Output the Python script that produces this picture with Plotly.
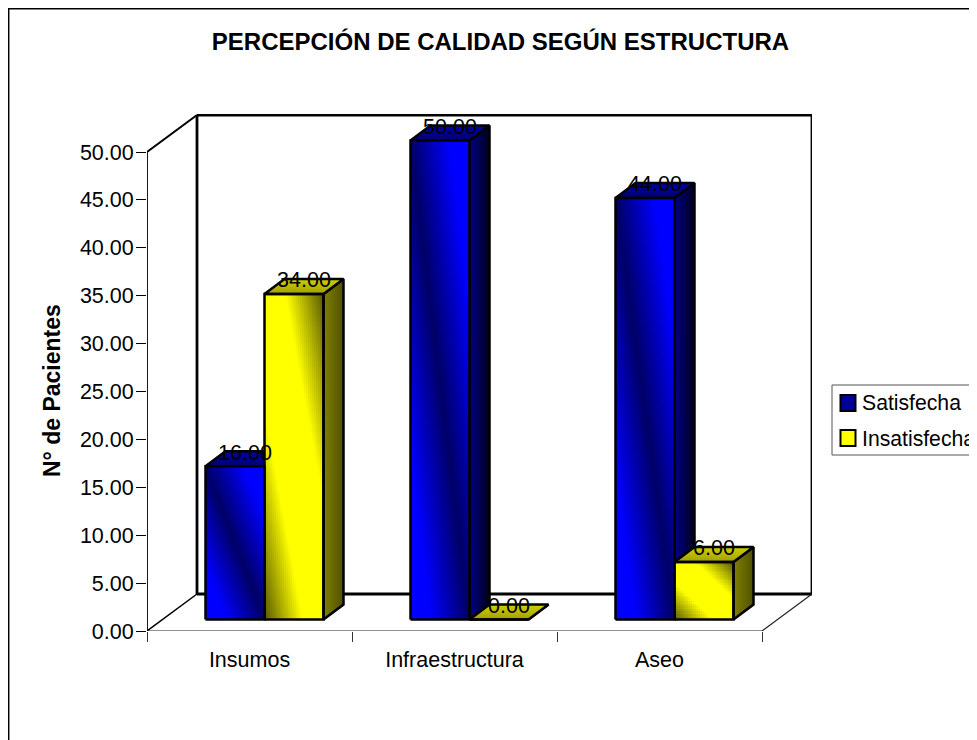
import numpy as np
import plotly.graph_objects as go

categories = ["Insumos", "Infraestructura", "Aseo"]
satisfecha = [16.0, 50.0, 44.0]
insatisfecha = [34.0, 0.0, 6.0]
y_ticks = [0, 5, 10, 15, 20, 25, 30, 35, 40, 45, 50]

FONT = "Liberation Sans"
FS = 21.5

# the page body keeps its 8px margin, so the figure starts at (8, 8)
OFF = 8
W, H = 969, 732

# pixel frame of the front plane in page pixels, the rest is relative to it
L, R, T, B = 147, 812, 114, 631
PX_X = 205.0      # pixels per category
PX_Y = 9.58       # pixels per value unit
WALL_X, WALL_Y = 50 / PX_X, 37 / PX_Y     # depth of the whole box
BAR_DX, BAR_DY = 20 / PX_X, 15 / PX_Y     # depth of one bar
FLOOR_X, FLOOR_Y = 15 / PX_X, 11.4 / PX_Y # where bars stand on the floor
BAR_W = 59 / PX_X

X_RANGE = [-0.5, -0.5 + (R - L) / PX_X]
Y_RANGE = [0, (B - T) / PX_Y]


def px(x):
    return (x - L) / (R - L)


def py(y):
    return (B - y) / (B - T)


BLUE = dict(scale=[[0, "#000066"], [0.65, "#0000ff"], [1, "#0000ff"]],
            side=[[0, "#000088"], [1, "#00001a"]],
            top=[[0, "#000070"], [1, "#0000a8"]], invert=False)
YELLOW = dict(scale=[[0, "#555500"], [0.65, "#ffff00"], [1, "#ffff00"]],
              side=[[0, "#808000"], [1, "#505000"]],
              top=[[0, "#a0a000"], [1, "#d0d000"]], invert=True)


def front_gradient(height, invert):
    # band along the top-left to bottom-right diagonal of the face
    nx, ny = 30, max(4, int(height * PX_Y / 2.5))
    u = (np.arange(nx) + 0.5) / nx
    v = (np.arange(ny) + 0.5) / ny   # 0 at the bottom
    uu, vv = np.meshgrid(u, v)
    band = np.abs(uu + vv - 1)
    return 1 - band if invert else band


fig = go.Figure()
behind, front_fill, front_lines = [], [], []
labels_x, labels_y, labels_t = [], [], []

for series, vals, off in [(BLUE, satisfecha, -BAR_W), (YELLOW, insatisfecha, 0)]:
    for i, v in enumerate(vals):
        x0 = i + FLOOR_X + off
        x1 = x0 + BAR_W
        yb = FLOOR_Y
        yt = FLOOR_Y + v

        side = go.Scatter(x=[x1, x1 + BAR_DX, x1 + BAR_DX, x1, x1],
                          y=[yb, yb + BAR_DY, yt + BAR_DY, yt, yb],
                          mode="lines", fill="toself",
                          fillgradient=dict(type="horizontal", colorscale=series["side"]),
                          line=dict(color="black", width=2.5), hoverinfo="skip")
        top = go.Scatter(x=[x0, x1, x1 + BAR_DX, x0 + BAR_DX, x0],
                         y=[yt, yt, yt + BAR_DY, yt + BAR_DY, yt],
                         mode="lines", fill="toself",
                         fillgradient=dict(type="vertical", colorscale=series["top"]),
                         line=dict(color="black", width=2.5), hoverinfo="skip")
        # blue depth faces go under the yellow fronts
        if series is BLUE:
            behind += [side, top]
        else:
            front_lines += [side, top]

        if v > 0:
            z = front_gradient(v, series["invert"])
            front_fill.append(go.Heatmap(
                x=np.linspace(x0, x1, z.shape[1] + 1),
                y=np.linspace(yb, yt, z.shape[0] + 1),
                z=z, zmin=0, zmax=1, colorscale=series["scale"],
                showscale=False, hoverinfo="skip", xaxis="x2", yaxis="y2"))
        front_lines.append(go.Scatter(x=[x0, x1, x1, x0, x0], y=[yb, yb, yt, yt, yb],
                                      mode="lines", line=dict(color="black", width=2.5),
                                      hoverinfo="skip"))
        labels_x.append(x0 + BAR_W / 2 + BAR_DX / 2)
        labels_y.append(yt + BAR_DY - 3 / PX_Y)
        labels_t.append(f"{v:.2f}")

for t in behind:
    fig.add_trace(t)
for t in front_fill:
    fig.add_trace(t)
for t in front_lines:
    t.update(xaxis="x2", yaxis="y2")
    fig.add_trace(t)

fig.add_trace(go.Scatter(x=labels_x, y=labels_y, text=labels_t, mode="text",
                         textposition="middle center",
                         textfont=dict(family=FONT, size=FS, color="black"),
                         xaxis="x2", yaxis="y2", hoverinfo="skip"))

# box walls and floor
x_l, x_r = X_RANGE[0], X_RANGE[1] - WALL_X
y_max = y_ticks[-1]
shapes = []


def seg(x0, y0, x1, y1, width, color="black"):
    shapes.append(dict(type="line", x0=x0, y0=y0, x1=x1, y1=y1, layer="below",
                       line=dict(color=color, width=width)))


seg(x_l + WALL_X, WALL_Y, x_r + WALL_X, WALL_Y, 2.8)
seg(x_l + WALL_X, y_max + WALL_Y, x_r + WALL_X, y_max + WALL_Y, 2.8)
seg(x_l + WALL_X, WALL_Y, x_l + WALL_X, y_max + WALL_Y, 2.8)
seg(x_r + WALL_X, WALL_Y, x_r + WALL_X, y_max + WALL_Y, 2.8)
seg(x_l, y_max, x_l + WALL_X, y_max + WALL_Y, 2)
seg(x_l, 0, x_l, y_max, 1.8)
seg(x_l, 0, x_r, 0, 1.2, "#222222")
seg(x_l, 0, x_l + WALL_X, WALL_Y, 1.5)
seg(x_r, 0, x_r + WALL_X, WALL_Y, 1.2, "#222222")

# outer chart border, top and left edges only show
shapes.append(dict(type="rect", xref="paper", yref="paper", layer="below",
                   x0=px(8.7), x1=px(1000), y0=py(8.7), y1=py(780),
                   line=dict(color="black", width=1.5)))
# legend box
shapes.append(dict(type="rect", xref="paper", yref="paper",
                   x0=px(832), x1=px(1000), y0=py(385), y1=py(455),
                   line=dict(color="#555555", width=1)))
legend_rows = [("Satisfecha", "#000098", 403), ("Insatisfecha", "#ffff00", 438)]
annotations = []
for name, color, row_y in legend_rows:
    shapes.append(dict(type="rect", xref="paper", yref="paper",
                       x0=px(840.5), x1=px(855.5), y0=py(row_y - 8), y1=py(row_y + 8),
                       fillcolor=color, line=dict(color="black", width=2)))
    annotations.append(dict(text=name, xref="paper", yref="paper", x=px(859.5), y=py(row_y),
                            xanchor="left", yanchor="middle", showarrow=False,
                            font=dict(family=FONT, size=21.2, color="black")))

annotations.append(dict(text="<b>N° de Pacientes</b>", xref="paper", yref="paper",
                        x=px(52), y=py(391), xanchor="center", yanchor="middle",
                        textangle=-90, showarrow=False,
                        font=dict(family=FONT, size=23, color="black")))

fig.update_layout(
    width=W, height=H, autosize=False,
    margin=dict(l=L - OFF, r=W - (R - OFF), t=T - OFF, b=H - (B - OFF)),
    paper_bgcolor="white", plot_bgcolor="white",
    showlegend=False,
    title=dict(text="<b>PERCEPCIÓN DE CALIDAD SEGÚN ESTRUCTURA</b>",
               x=(500.5 - OFF) / W, xanchor="center", y=1 - (42 - OFF) / H, yanchor="middle",
               font=dict(family=FONT, size=24, color="black")),
    xaxis=dict(range=X_RANGE, showgrid=False, zeroline=False, showline=False,
               tickmode="array", tickvals=[0, 1, 2], ticktext=categories,
               ticks="outside", ticklen=9, tickcolor="rgba(0,0,0,0)",
               tickfont=dict(family=FONT, size=FS, color="black"),
               minor=dict(tickmode="array", tickvals=[-0.5, 0.5, 1.5, 2.5],
                          ticks="outside", ticklen=10, tickwidth=1, tickcolor="#333333")),
    yaxis=dict(range=Y_RANGE, showgrid=False, zeroline=False, showline=False,
               tickmode="array", tickvals=y_ticks, tickformat=".2f",
               ticks="outside", ticklen=10, tickwidth=1.2, tickcolor="black",
               ticklabelstandoff=-2,
               tickfont=dict(family=FONT, size=FS, color="black")),
    xaxis2=dict(range=X_RANGE, overlaying="x", anchor="y2", visible=False),
    yaxis2=dict(range=Y_RANGE, overlaying="y", anchor="x2", visible=False),
    shapes=shapes,
    annotations=annotations,
)

fig.write_html("out.html")
